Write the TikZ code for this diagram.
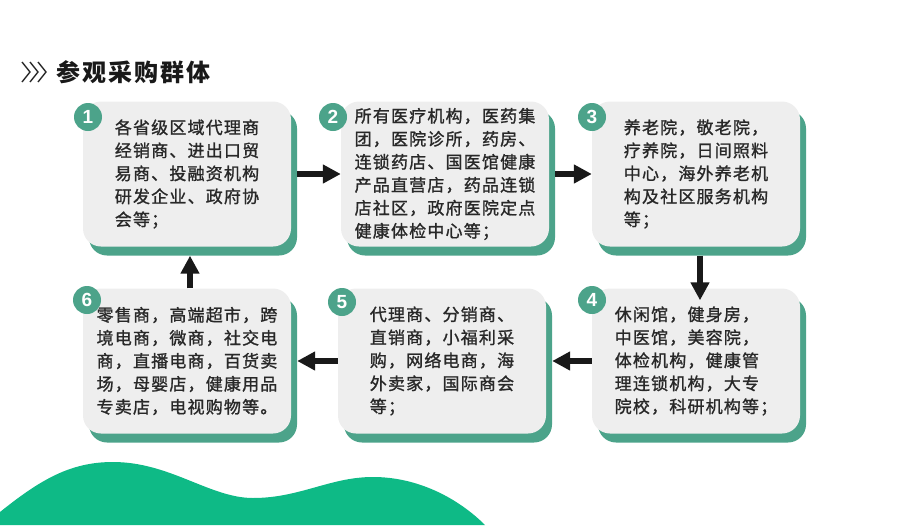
\documentclass[tikz,border=0pt]{standalone}
\usepackage{fontspec}
\usetikzlibrary{arrows.meta, positioning, shadows}
\newfontfamily\cjk{Noto Sans CJK SC}[LetterSpace=7, FakeBold=1.2]
\newfontfamily\cjktitle{Noto Sans CJK SC}[LetterSpace=8]
\newfontfamily\numfont{Liberation Sans}
\definecolor{boxgray}{RGB}{238,238,238}
\definecolor{tealgreen}{RGB}{76,163,138}
\definecolor{wavegreen}{RGB}{14,186,134}
\definecolor{txtgray}{RGB}{40,40,40}

\begin{document}
\begin{tikzpicture}[x=1pt, y=-1pt]
    \useasboundingbox (0,0) rectangle (905,525);
    \tikzstyle{group}=[rounded corners=18pt, fill=boxgray, minimum width=208pt, minimum height=145pt, inner sep=0pt, align=left, text=txtgray, font=\cjk\fontsize{17}{23}\selectfont, drop shadow={shadow xshift=6pt, shadow yshift=-9pt, fill=tealgreen, opacity=1}]
    \tikzstyle{badge}=[circle, fill=tealgreen, minimum size=28pt, inner sep=0pt, text=white, font=\numfont\bfseries\fontsize{19}{19}\selectfont]
    \tikzstyle{flow}=[line width=6pt, draw=black!90, -{Triangle[length=18pt, width=18pt]}]

    % Title
    \foreach \x in {22,30,38} {
        \draw[line width=1.4pt, black!85] (\x,62) -- (\x+8,72) -- (\x,82);
    }
    \node[anchor=west, text=black!90, font=\cjktitle\bfseries\fontsize{24}{24}\selectfont] (title) at (53,72) {参观采购群体};

    % Top row
    \node[group] (b1) at (187,174) {各省级区域代理商\\经销商、进出口贸\\易商、投融资机构\\研发企业、政府协\\会等；};
    \node[group] (b2) at (445,174) {所有医疗机构，医药集\\团，医院诊所，药房、\\连锁药店、国医馆健康\\产品直营店，药品连锁\\店社区，政府医院定点\\健康体检中心等；};
    \node[group] (b3) at (696,174) {养老院，敬老院，\\疗养院，日间照料\\中心，海外养老机\\构及社区服务机构\\等；};

    % Bottom row
    \node[group] (b4) at (696,361) {休闲馆，健身房，\\中医馆，美容院，\\体检机构，健康管\\理连锁机构，大专\\院校，科研机构等；};
    \node[group] (b5) at (442,361) {代理商、分销商、\\直销商，小福利采\\购，网络电商，海\\外卖家，国际商会\\等；};
    \node[group] (b6) at (187,361) {零售商，高端超市，跨\\境电商，微商，社交电\\商，直播电商，百货卖\\场，母婴店，健康用品\\专卖店，电视购物等。};

    % Number badges
    \foreach \n/\x/\y in {1/88/117, 2/333/117, 3/592/117, 4/592/300, 5/342/302, 6/87/300} {
        \node[badge] (n\n) at (\x,\y) {\n};
    }

    % Flow arrows
    \draw[flow] ([xshift=6pt]b1.east) -- (b2.west);
    \draw[flow] ([xshift=6pt]b2.east) -- (b3.west);
    \draw[flow] ([xshift=4pt, yshift=-9pt]b3.south) -- ([xshift=4pt, yshift=-12pt]b4.north);
    \draw[flow] (b4.west) -- ([xshift=6pt]b5.east);
    \draw[flow] (b5.west) -- ([xshift=6pt]b6.east);
    \draw[flow] ([xshift=3pt]b6.north) -- ([xshift=3pt, yshift=-9pt]b1.south);

    % Wave
    \fill[wavegreen] (0,512) .. controls (40,480) and (70,462) .. (113,462)
        .. controls (170,462) and (210,498) .. (253,498)
        .. controls (300,498) and (330,477) .. (373,477)
        .. controls (420,477) and (460,500) .. (485,525) -- (0,525) -- cycle;
\end{tikzpicture}
\end{document}
